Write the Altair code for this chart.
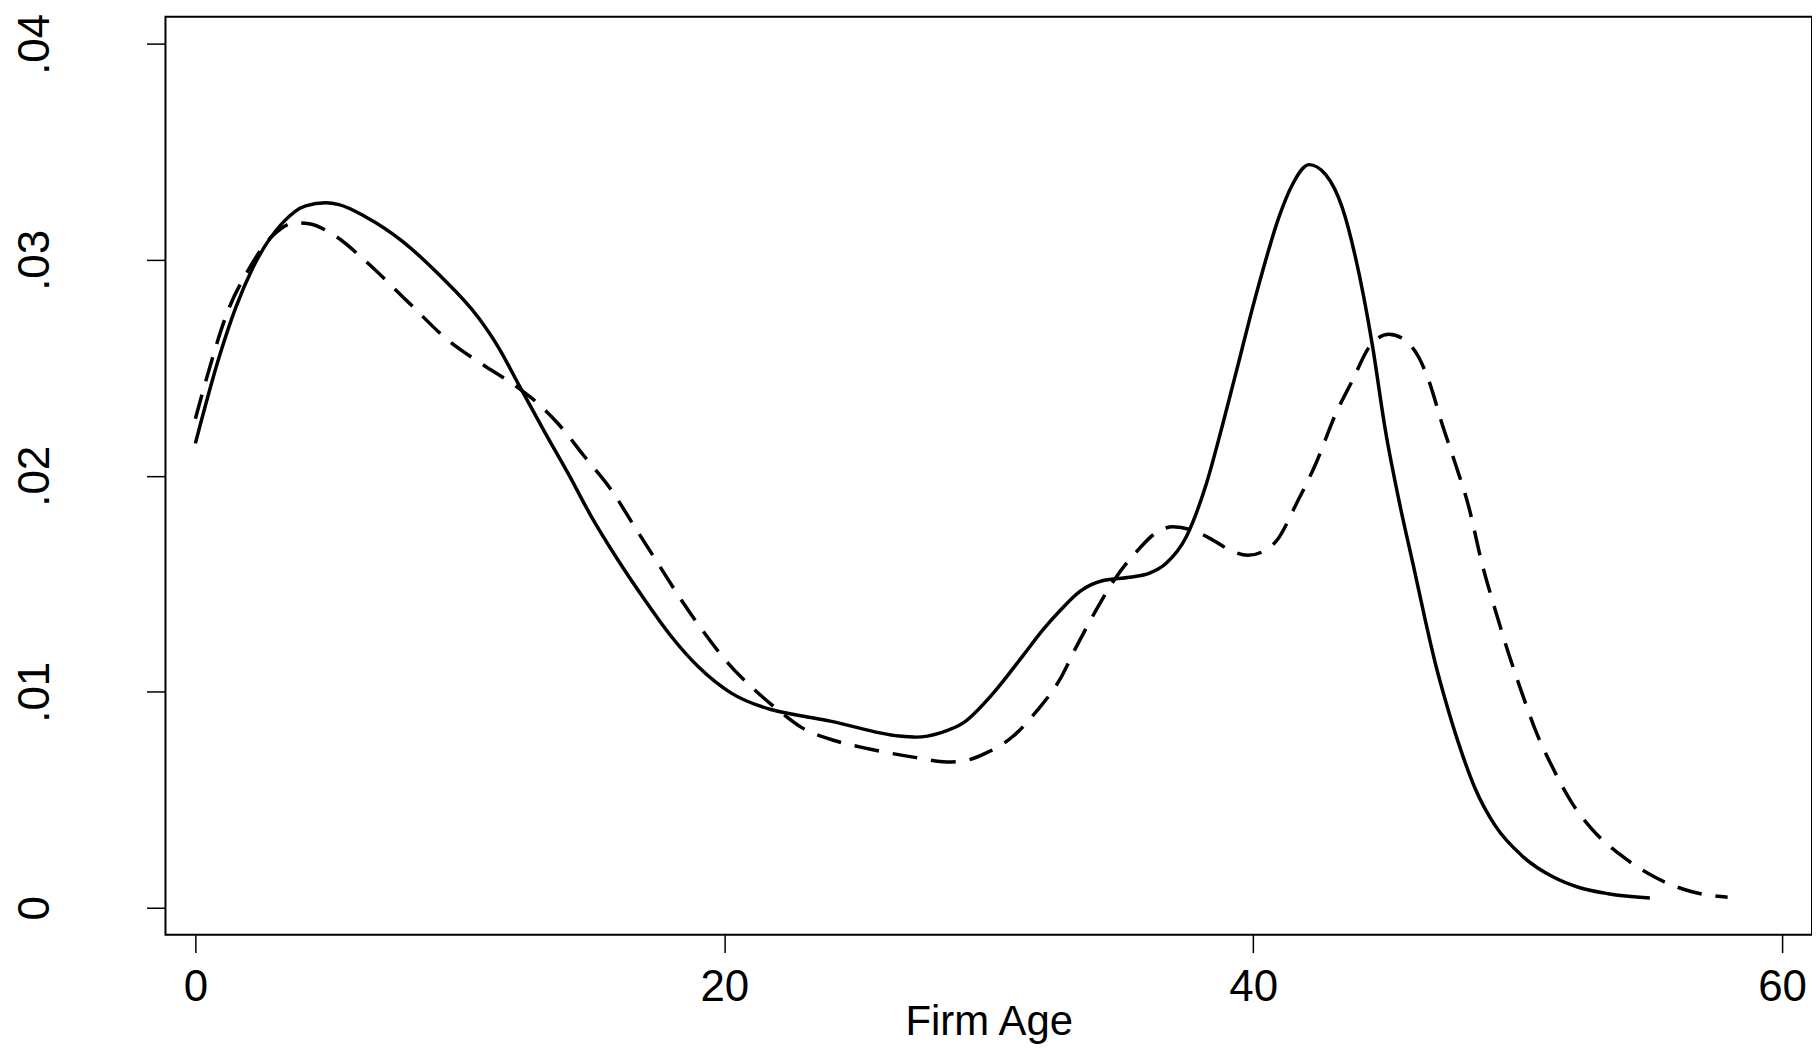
import altair as alt
import pandas as pd

# Solid curve (firm age density, series 1)
solid_x = [0.0, 0.9, 1.53, 2.16, 3.29, 4.17, 4.93, 5.43, 6.43, 7.82, 9.20, 10.70, 11.46,
           12.21, 13.22, 14.10, 14.98, 15.98, 16.99, 17.99, 19.0, 20.25, 21.76, 22.64,
           24.01, 26.61, 27.26, 28.17, 29.05, 30.18, 31.31, 32.07, 32.69, 33.45, 34.33,
           35.33, 36.08, 36.71, 37.47, 38.22, 38.85, 39.48, 39.98, 40.36, 40.98, 41.49,
           42.11, 42.74, 43.37, 43.87, 44.50, 45.0, 45.51, 46.1, 46.51, 46.89, 47.27,
           47.77, 48.40, 49.15, 50.16, 51.35, 52.29, 53.42, 55.0]
solid_y = [0.0215, 0.0255, 0.0278, 0.0296, 0.0317, 0.0325, 0.03264, 0.03256, 0.0320,
           0.03087, 0.02933, 0.02733, 0.02595, 0.02426, 0.02200, 0.0201, 0.0181, 0.0161,
           0.01426, 0.01257, 0.01118, 0.00995, 0.00918, 0.00895, 0.00864, 0.00795, 0.0079,
           0.0081, 0.00857, 0.00995, 0.0117, 0.0129, 0.01375, 0.01465, 0.01515, 0.0153,
           0.01549, 0.01595, 0.01718, 0.0196, 0.0224, 0.0254, 0.0278, 0.0295, 0.0320,
           0.0335, 0.03441, 0.03395, 0.03241, 0.0301, 0.0261, 0.0221, 0.01887, 0.0156,
           0.0133, 0.0113, 0.0096, 0.0076, 0.0055, 0.0038, 0.00241, 0.00142, 0.00095,
           0.00065, 0.00045]

# Dashed curve (series 2)
dashed_x = [0.0, 0.40, 1.28, 1.91, 2.91, 3.80, 4.30, 5.30, 6.43, 8.07, 9.57, 10.83, 12.09,
            13.0, 13.72, 14.73, 15.73, 16.61, 17.49, 18.37, 19.25, 20.13, 21.13, 22.01,
            22.93, 24.23, 25.53, 27.26, 28.42, 29.05, 29.93, 30.93, 31.81, 32.69, 33.32,
            34.07, 34.83, 35.71, 36.21, 36.97, 37.65, 38.47, 39.10, 39.80, 40.36, 40.92,
            41.61, 42.37, 43.12, 43.75, 44.38, 45.13, 45.76, 46.26, 46.64, 47.14, 47.64,
            48.15, 48.65, 49.15, 49.65, 50.16, 50.66, 51.29, 52.04, 52.80, 53.93, 55.18,
            56.56, 57.94]
dashed_y = [0.02264, 0.02441, 0.02779, 0.02933, 0.0311, 0.03172, 0.03167, 0.0311, 0.02995,
            0.02802, 0.02626, 0.02518, 0.02418, 0.0233, 0.02241, 0.02087, 0.01934, 0.01764,
            0.01595, 0.01426, 0.01272, 0.01134, 0.01011, 0.00918, 0.00834, 0.00772, 0.00734,
            0.00695, 0.00675, 0.0068, 0.00718, 0.00795, 0.0091, 0.01057, 0.0121, 0.0138,
            0.01533, 0.01665, 0.01726, 0.01764, 0.0175, 0.01703, 0.01657, 0.01632, 0.01649,
            0.01705, 0.01865, 0.02057, 0.02287, 0.02441, 0.02595, 0.02656, 0.02626, 0.02549,
            0.02441, 0.02241, 0.02057, 0.01857, 0.01595, 0.0138, 0.0118, 0.00995, 0.00826,
            0.00657, 0.00488, 0.00365, 0.00241, 0.00142, 0.00075, 0.00049]

x_ticks = [0, 20, 40, 60]
y_ticks = [0, 0.01, 0.02, 0.03, 0.04]

df_solid = pd.DataFrame({"age": solid_x, "density": solid_y})
df_dashed = pd.DataFrame({"age": dashed_x, "density": dashed_y})

x_enc = alt.X(
    "age:Q",
    scale=alt.Scale(domain=[-1.13, 61.13], nice=False, zero=False),
    axis=alt.Axis(
        title="Firm Age",
        values=x_ticks,
        format="d",
        domain=False,
        grid=False,
        tickColor="black",
        tickWidth=1.5,
        tickSize=18,
        labelFontSize=44,
        labelColor="black",
        labelBaseline="alphabetic",
        labelPadding=48,
        labelFlush=False,
        titleFontSize=42,
        titleFontWeight="normal",
        titleColor="black",
        titleBaseline="alphabetic",
        titleY=100,
    ),
)
y_enc = alt.Y(
    "density:Q",
    scale=alt.Scale(domain=[-0.001246, 0.04126], nice=False, zero=False),
    axis=alt.Axis(
        title="",
        values=y_ticks,
        labelExpr="datum.value == 0 ? '0' : replace(format(datum.value, '.2f'), '0.', '.')",
        domain=False,
        grid=False,
        tickColor="black",
        tickWidth=1.5,
        tickSize=19,
        labelFontSize=44,
        labelColor="black",
        labelAngle=270,
        labelAlign="center",
        labelBaseline="alphabetic",
        labelPadding=98,
        labelFlush=False,
    ),
)

solid = alt.Chart(df_solid).mark_line(
    color="black", strokeWidth=3.5, interpolate="monotone"
).encode(x=x_enc, y=y_enc)

dashed = alt.Chart(df_dashed).mark_line(
    color="black", strokeWidth=3.5, interpolate="monotone", strokeDash=[25, 14], strokeCap="butt"
).encode(x=x_enc, y=y_enc)

chart = alt.layer(solid, dashed).properties(
    width=1652,
    height=921,
    autosize=alt.AutoSizeParams(type="none"),
    padding={"left": 158, "top": 7, "right": 0, "bottom": 110},
    background="white",
).configure(font="Liberation Sans").configure_view(
    stroke="black", strokeWidth=2
)

chart.save("out.html", embed_options={"renderer": "svg", "actions": False})
